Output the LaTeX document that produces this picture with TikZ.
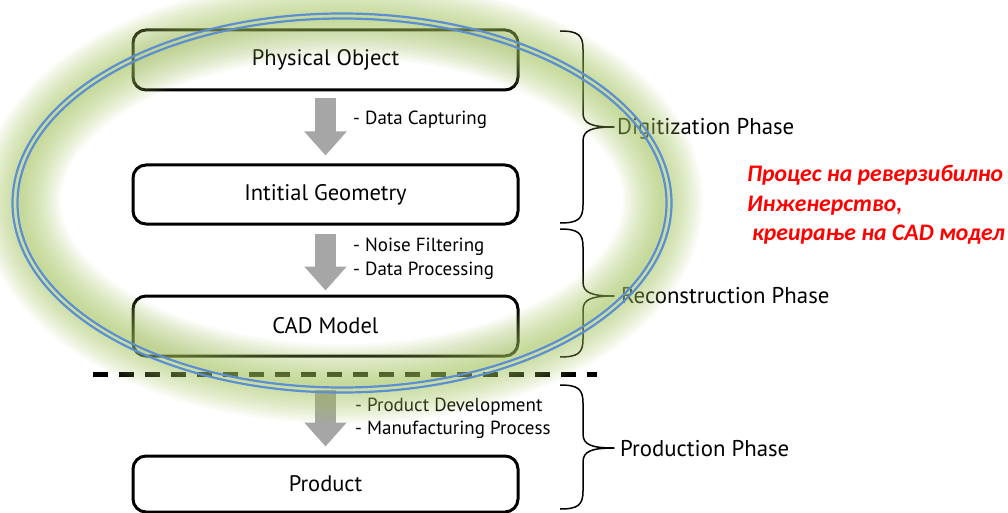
\documentclass[tikz,border=0pt]{standalone}
\usepackage{fontspec}
\setmainfont{PT Sans}
\newfontfamily\calib{Carlito}
\usetikzlibrary{arrows.meta,calc}
\definecolor{glowgreen}{HTML}{A2C25C}
\definecolor{ringblue}{HTML}{5B8FD1}
\definecolor{arrowgray}{HTML}{A6A6A6}
\definecolor{alertred}{HTML}{FF0000}
% curly brace from (560,top) to (560,bottom) with its tip at (614,mid)
\newcommand\phasebrace[3]{%
  \draw[brace] (560,#1) .. controls (578,#1) and (583,#1+4) .. (583,#1+18)
    -- (583,#3-14) .. controls (583,#3-3) and (592,#3) .. (614,#3)
    .. controls (592,#3) and (583,#3+3) .. (583,#3+14)
    -- (583,#2-18) .. controls (583,#2-4) and (578,#2) .. (560,#2);}
\begin{document}
\begin{tikzpicture}[x=1pt,y=-1pt,
  stage/.style={draw=black, fill=white, line width=3pt, rounded corners=13pt,
    minimum width=385pt, inner sep=0pt, font=\fontsize{22.5}{26}\selectfont},
  blockarr/.style={arrowgray, line width=21pt,
    -{Triangle[width=41pt,length=24pt]}},
  note/.style={anchor=west, inner sep=0pt, font=\fontsize{19}{22}\selectfont},
  phase/.style={anchor=west, inner sep=0pt, font=\fontsize{22.8}{26}\selectfont},
  brace/.style={line width=1.5pt, line join=round},
  ring/.style={ringblue, line width=2.2pt}]
\useasboundingbox (0,0) rectangle (1008,513);
\clip (0,0) rectangle (1008,513);

% process stages
\node[stage, minimum height=60pt] (obj)  at (325.5,60)    {Physical Object};
\node[stage, minimum height=59pt] (geo)  at (325.5,194.5) {Intitial Geometry};
\node[stage, minimum height=60pt] (cad)  at (325.5,326)   {CAD Model};
\node[stage, minimum height=56pt] (prod) at (325.5,484)   {Product};

% transitions between stages
\draw[blockarr, shorten <=7pt, shorten >=8pt] (obj) -- (geo);
\draw[blockarr, shorten <=8pt, shorten >=4pt] (geo) -- (cad);
\draw[blockarr, shorten <=32pt, shorten >=8pt] (cad) -- (prod);

\node[note] (n1) at (353,120) {- Data Capturing};
\node[note] (n2) at (353,247) {- Noise Filtering};
\node[note] (n3) at (353,271) {- Data Processing};
\node[note] (n4) at (355,407) {- Product Development};
\node[note] (n5) at (355,430) {- Manufacturing Process};

% separator between modelling and production
\draw[line width=5pt, dash pattern=on 15pt off 11pt] (93,374) -- (597,374);

% phases
\phasebrace{31}{223}{127}
\phasebrace{229}{357}{296}
\phasebrace{385}{509}{448}
\node[phase] (dig) at (617,129) {Digitization Phase};
\node[phase] (rec) at (621,296) {Reconstruction Phase};
\node[phase] (pro) at (620,449) {Production Phase};

\node[anchor=north west, inner sep=0pt, align=left, text=alertred,
  font=\calib\bfseries\itshape\fontsize{23.7}{29.5}\selectfont] (re) at (747,165)
  {Процес на реверзибилно\\Инженерство,\\ \hspace{5pt}креирање на CAD модел};

% soft green halo along the ring
\foreach \w in {80,76,...,4}
  \draw[glowgreen, opacity=0.048, line width=\w pt]
    (342,201) ellipse [x radius=321, y radius=183];

% double blue ring
\draw[ring] (342,203) ellipse [x radius=329.5, y radius=189.5];
\draw[ring] (342,203) ellipse [x radius=324.5, y radius=184.5];
\end{tikzpicture}
\end{document}
